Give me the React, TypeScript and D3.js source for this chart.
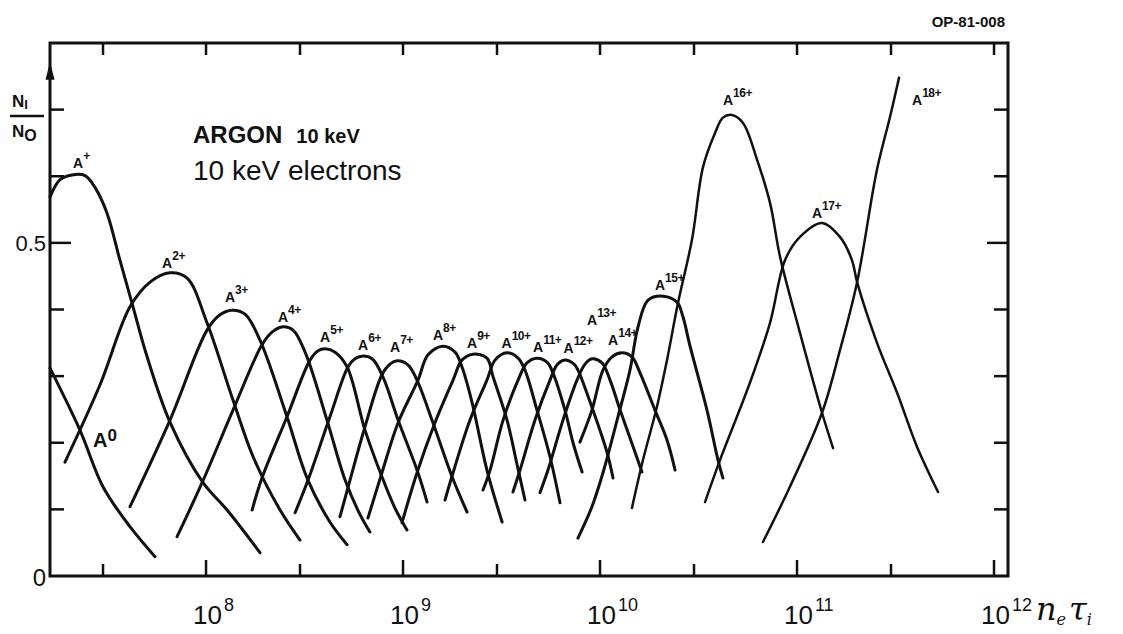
import React from "react";
import * as d3 from "d3";

// points are [log10(n_e tau_i), N_i/N_0]
type Pt = [number, number];

const A0: Pt[] = [[7.208, 0.312], [7.36, 0.219], [7.477, 0.134], [7.614, 0.074], [7.741, 0.029]];
const A1: Pt[] = [[7.208, 0.569], [7.259, 0.595], [7.32, 0.602], [7.386, 0.601], [7.437, 0.583], [7.497, 0.545], [7.563, 0.474], [7.624, 0.41], [7.701, 0.329], [7.817, 0.231], [7.985, 0.14], [8.107, 0.099], [8.274, 0.035]];
const A2: Pt[] = [[7.284, 0.171], [7.462, 0.287], [7.614, 0.404], [7.716, 0.441], [7.817, 0.455], [7.904, 0.447], [8.005, 0.38], [8.137, 0.264], [8.239, 0.179], [8.376, 0.099], [8.477, 0.054]];
const A3: Pt[] = [[7.614, 0.104], [7.817, 0.234], [8.005, 0.369], [8.071, 0.392], [8.132, 0.399], [8.198, 0.393], [8.274, 0.354], [8.411, 0.239], [8.513, 0.147], [8.629, 0.081], [8.716, 0.047]];
const A4: Pt[] = [[7.853, 0.059], [7.98, 0.14], [8.137, 0.249], [8.284, 0.347], [8.335, 0.366], [8.391, 0.374], [8.442, 0.369], [8.503, 0.336], [8.614, 0.234], [8.706, 0.144], [8.782, 0.092], [8.832, 0.066]];
const A5: Pt[] = [[8.234, 0.099], [8.284, 0.147], [8.411, 0.239], [8.528, 0.324], [8.569, 0.338], [8.604, 0.341], [8.655, 0.336], [8.716, 0.314], [8.807, 0.219], [8.893, 0.149], [8.959, 0.102], [9.02, 0.069]];
const A6: Pt[] = [[8.452, 0.095], [8.518, 0.144], [8.629, 0.239], [8.721, 0.314], [8.756, 0.326], [8.792, 0.33], [8.843, 0.326], [8.898, 0.299], [8.975, 0.234], [9.076, 0.155], [9.122, 0.111]];
const A7: Pt[] = [[8.68, 0.089], [8.731, 0.144], [8.807, 0.224], [8.893, 0.302], [8.934, 0.318], [8.97, 0.323], [9.025, 0.317], [9.071, 0.294], [9.152, 0.23], [9.249, 0.149], [9.325, 0.096]];
const A8: Pt[] = [[8.822, 0.087], [8.893, 0.155], [8.975, 0.23], [9.076, 0.294], [9.127, 0.332], [9.203, 0.345], [9.264, 0.336], [9.299, 0.314], [9.35, 0.261], [9.426, 0.159], [9.503, 0.081]];
const A9: Pt[] = [[8.995, 0.08], [9.071, 0.155], [9.162, 0.23], [9.254, 0.294], [9.299, 0.324], [9.355, 0.333], [9.426, 0.327], [9.457, 0.299], [9.528, 0.234], [9.579, 0.167], [9.619, 0.114]];
const A10: Pt[] = [[9.213, 0.114], [9.254, 0.155], [9.34, 0.234], [9.426, 0.294], [9.467, 0.324], [9.528, 0.335], [9.584, 0.327], [9.619, 0.309], [9.68, 0.249], [9.746, 0.179], [9.797, 0.11]];
const A11: Pt[] = [[9.406, 0.129], [9.442, 0.159], [9.508, 0.234], [9.584, 0.294], [9.629, 0.32], [9.68, 0.327], [9.731, 0.321], [9.761, 0.305], [9.822, 0.249], [9.863, 0.2], [9.909, 0.156]];
const A12: Pt[] = [[9.558, 0.126], [9.594, 0.159], [9.67, 0.234], [9.746, 0.294], [9.782, 0.317], [9.817, 0.324], [9.868, 0.318], [9.888, 0.309], [9.964, 0.249], [10.036, 0.185], [10.066, 0.147]];
const A13: Pt[] = [[9.695, 0.125], [9.736, 0.159], [9.812, 0.234], [9.883, 0.294], [9.924, 0.318], [9.959, 0.326], [10.01, 0.32], [10.051, 0.294], [10.102, 0.249], [10.168, 0.194], [10.213, 0.156]];
const A14: Pt[] = [[9.898, 0.201], [9.959, 0.249], [10.015, 0.309], [10.061, 0.329], [10.112, 0.335], [10.162, 0.329], [10.203, 0.305], [10.279, 0.249], [10.34, 0.204], [10.381, 0.159]];
const A15: Pt[] = [[9.888, 0.057], [9.959, 0.104], [10.015, 0.155], [10.091, 0.239], [10.152, 0.309], [10.193, 0.374], [10.244, 0.414], [10.32, 0.42], [10.391, 0.411], [10.421, 0.389], [10.457, 0.345], [10.543, 0.249], [10.599, 0.174], [10.624, 0.147]];
const A16: Pt[] = [[10.162, 0.102], [10.218, 0.174], [10.289, 0.254], [10.34, 0.324], [10.396, 0.41], [10.467, 0.505], [10.523, 0.614], [10.584, 0.665], [10.624, 0.688], [10.67, 0.692], [10.726, 0.68], [10.797, 0.625], [10.863, 0.56], [10.914, 0.479], [11.015, 0.365], [11.127, 0.245], [11.183, 0.192]];
const A17: Pt[] = [[10.533, 0.111], [10.609, 0.174], [10.761, 0.29], [10.863, 0.38], [10.939, 0.474], [11.015, 0.509], [11.127, 0.53], [11.218, 0.509], [11.279, 0.474], [11.305, 0.441], [11.406, 0.35], [11.508, 0.275], [11.609, 0.194], [11.716, 0.126]];
const A18: Pt[] = [[10.827, 0.051], [10.964, 0.134], [11.127, 0.245], [11.218, 0.339], [11.305, 0.441], [11.406, 0.61], [11.472, 0.689], [11.518, 0.748]];

const curves = [A0, A1, A2, A3, A4, A5, A6, A7, A8, A9, A10, A11, A12, A13, A14, A15, A16, A17, A18];

const charges = ["0", "+", "2+", "3+", "4+", "5+", "6+", "7+", "8+", "9+", "10+", "11+", "12+", "13+", "14+", "15+", "16+", "17+", "18+"];
const labelAt: Pt[] = [
  [7.426, 0.194], [7.325, 0.613], [7.777, 0.462], [8.096, 0.411], [8.365, 0.381],
  [8.579, 0.351], [8.772, 0.339], [8.934, 0.336], [9.152, 0.354], [9.325, 0.342],
  [9.5, 0.342], [9.66, 0.336], [9.815, 0.335], [9.934, 0.377], [10.041, 0.347],
  [10.279, 0.429], [10.624, 0.707], [11.076, 0.538], [11.584, 0.707],
];

const xMajor = [1e8, 1e9, 1e10, 1e11, 1e12];
const xMajorExp = ["8", "9", "10", "11", "12"];
const xMinor = [3e7, 3e8, 3e9, 3e10, 3e11];
const yTicks = [0.1, 0.2, 0.3, 0.4, 0.5, 0.6, 0.7];

const W = 1123;
const H = 634;
const INK = "#111";
const SANS = "'Liberation Sans', Arial, sans-serif";

export default function App() {
  const x = d3.scaleLog().domain([10 ** 7.208, 10 ** 12.071]).range([50, 1008]);
  const y = d3.scaleLinear().domain([0, 0.8]).range([576, 43]);
  const line = d3
    .line<Pt>()
    .x((d) => x(10 ** d[0]))
    .y((d) => y(d[1]))
    .curve(d3.curveCatmullRom.alpha(0.5));

  const [x0, x1] = x.range();
  const [yb, yt] = y.range();

  return (
    <svg
      width={W}
      height={H}
      style={{ position: "absolute", left: 0, top: 0, background: "#fff" }}
      fontFamily={SANS}
    >
      <rect x={0} y={0} width={W} height={H} fill="#fff" />

      {/* frame */}
      <rect x={x0} y={yt} width={x1 - x0} height={yb - yt} fill="none" stroke={INK} strokeWidth={3} />

      {/* arrow on the y axis */}
      <path d={`M${x0},${y(0.772)} L${x0 - 4.5},${y(0.745)} L${x0 + 4.5},${y(0.745)} Z`} fill={INK} />

      {/* ticks */}
      {xMajor.map((t) => (
        <g key={"M" + t}>
          <line x1={x(t)} x2={x(t)} y1={yb} y2={yb - 16} stroke={INK} strokeWidth={2.5} />
          <line x1={x(t)} x2={x(t)} y1={yt} y2={yt + 12} stroke={INK} strokeWidth={2.5} />
        </g>
      ))}
      {xMinor.map((t) => (
        <g key={"m" + t}>
          <line x1={x(t)} x2={x(t)} y1={yb} y2={yb - 12} stroke={INK} strokeWidth={2.5} />
          <line x1={x(t)} x2={x(t)} y1={yt} y2={yt + 12} stroke={INK} strokeWidth={2.5} />
        </g>
      ))}
      {yTicks.map((t) => {
        const len = t === 0.5 ? 21 : 14;
        return (
          <g key={"y" + t}>
            <line x1={x0} x2={x0 + len} y1={y(t)} y2={y(t)} stroke={INK} strokeWidth={2.5} />
            <line x1={x1} x2={x1 - len} y1={y(t)} y2={y(t)} stroke={INK} strokeWidth={2.5} />
          </g>
        );
      })}

      {/* curves */}
      {curves.map((c, i) => (
        <path
          key={i}
          d={line(c) ?? ""}
          fill="none"
          stroke={INK}
          strokeWidth={i >= 16 ? 2.5 : 3}
          strokeLinecap="round"
          strokeLinejoin="round"
        />
      ))}

      {/* curve labels */}
      {charges.map((c, i) => {
        const [e, n] = labelAt[i];
        const big = i === 0;
        return (
          <text
            key={"l" + c}
            x={x(10 ** e)}
            y={y(n)}
            fontSize={big ? 20 : 14}
            fontWeight="bold"
            fill={INK}
          >
            A
            <tspan dy={big ? -6 : -8} fontSize={big ? 17 : 12} letterSpacing={big ? 0 : -0.5}>
              {c}
            </tspan>
          </text>
        );
      })}

      {/* y axis labels */}
      <text x={46} y={y(0.5) + 8} fontSize={22} textAnchor="end" fill={INK}>
        0.5
      </text>
      <text x={46} y={yb + 10} fontSize={24} textAnchor="end" fill={INK}>
        0
      </text>
      <text x={12} y={107} fontSize={17} fontWeight="bold" fill={INK}>
        N<tspan fontSize={13} dy={2}>I</tspan>
      </text>
      <line x1={10} x2={44} y1={116} y2={116} stroke={INK} strokeWidth={2.5} />
      <text x={12} y={137} fontSize={17} fontWeight="bold" fill={INK}>
        N<tspan fontSize={16} dy={4}>O</tspan>
      </text>

      {/* x axis labels */}
      {xMajor.map((t, i) => (
        <text key={"xl" + t} x={x(t) - 13} y={624} fontSize={26} fill={INK}>
          10
          <tspan dy={-13} dx={2} fontSize={18}>
            {xMajorExp[i]}
          </tspan>
        </text>
      ))}
      <text x={1036} y={620} fontSize={32} fontStyle="italic" fontFamily="'DejaVu Serif', serif" fill={INK}>
        n<tspan fontSize={16} dy={5}>e</tspan>
        <tspan dy={-5} dx={3}>τ</tspan>
        <tspan fontSize={16} dy={5}>i</tspan>
      </text>

      {/* notes */}
      <text x={193} y={143} fontSize={24} fontWeight="bold" fill={INK}>
        ARGON
        <tspan dx={14} fontSize={20}>10 keV</tspan>
      </text>
      <text x={193} y={180} fontSize={28} fill={INK}>
        10 keV electrons
      </text>
      <text x={1005} y={27} fontSize={15} fontWeight="bold" textAnchor="end" fill={INK}>
        OP-81-008
      </text>
    </svg>
  );
}
